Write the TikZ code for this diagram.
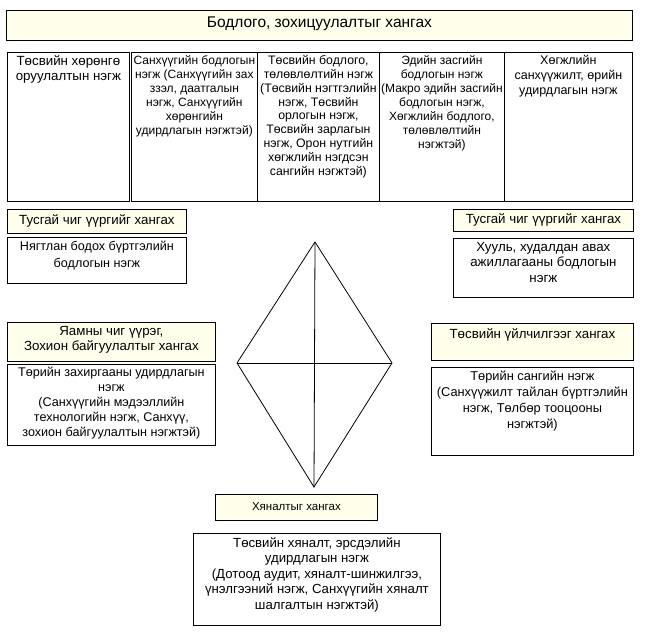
\documentclass[tikz,border=0pt]{standalone}
\usepackage{fontspec}
\setmainfont{Liberation Sans}
\usetikzlibrary{positioning}

\definecolor{hdrfill}{RGB}{255,255,236}

\tikzset{
  cell/.style={draw, line width=0.8pt, anchor=north west, inner sep=0pt},
  hdr/.style={cell, fill=hdrfill},
  txt/.style={align=center, anchor=north, inner sep=0pt},
}

\begin{document}
\begin{tikzpicture}[x=1pt, y=-1pt, every node/.style={font=\fontsize{12.5}{14}\selectfont}]
	\useasboundingbox (0,0) rectangle (647,635);
	% top header
	\node[hdr, minimum width=626pt, minimum height=30pt] (top) at (6,10) {};
	\node[font=\fontsize{15.5}{17}\selectfont] (topt) at ([yshift=2pt]top.center) {Бодлого, зохицуулалтыг хангах};
	% five units of the top row
	\node[cell, minimum width=122pt, minimum height=149pt] (u1) at (7,52) {};
	\node[cell, minimum width=126pt, minimum height=149pt] (u2) at (131,52) {};
	\node[cell, minimum width=122pt, minimum height=149pt] (u3) at (257,52) {};
	\node[cell, minimum width=125pt, minimum height=149pt] (u4) at (379,52) {};
	\node[cell, minimum width=128pt, minimum height=149pt] (u5) at (504,52) {};
	\node[txt, font=\fontsize{13.3}{15}\selectfont] (u1t) at ([yshift=-3pt]u1.north) {Төсвийн хөрөнгө\\оруулалтын нэгж};
	\node[txt, font=\fontsize{12}{14}\selectfont] (u2t) at ([yshift=-3pt]u2.north) {Санхүүгийн бодлогын\\нэгж (Санхүүгийн зах\\ззэл, даатгалын\\нэгж, Санхүүгийн\\хөрөнгийн\\удирдлагын нэгжтэй)};
	\node[txt, font=\fontsize{12.3}{13.9}\selectfont] (u3t) at ([yshift=-3pt]u3.north) {Төсвийн бодлого,\\төлөвлөлтийн нэгж\\(Төсвийн нэгтгэлийн\\нэгж, Төсвийн\\орлогын нэгж,\\Төсвийн зарлагын\\нэгж, Орон нутгийн\\хөгжлийн нэгдсэн\\сангийн нэгжтэй)};
	\node[txt, font=\fontsize{12}{14}\selectfont] (u4t) at ([yshift=-3pt]u4.north) {Эдийн засгийн\\бодлогын нэгж\\(Макро эдийн засгийн\\бодлогын нэгж,\\Хөгжлийн бодлого,\\төлөвлөлтийн\\нэгжтэй)};
	\node[txt, font=\fontsize{12.5}{15}\selectfont] (u5t) at ([yshift=-3pt]u5.north) {Хөгжлийн\\санхүүжилт, өрийн\\удирдлагын нэгж};

	% left side
	\node[hdr, minimum width=179pt, minimum height=24pt] (sl) at (7,209) {};
	\node[font=\fontsize{13.3}{15}\selectfont] (slt) at (sl.center) {Тусгай чиг үүргийг хангах};
	\node[cell, minimum width=179pt, minimum height=46pt] (acc) at (7,237) {};
	\node[txt, font=\fontsize{12.6}{17}\selectfont] (acct) at ([yshift=-4pt]acc.north) {Нягтлан бодох бүртгэлийн\\бодлогын нэгж};
	\node[hdr, minimum width=208pt, minimum height=39pt] (ml) at (7,322) {};
	\node[txt, font=\fontsize{13.3}{15}\selectfont] (mlt) at ([yshift=-4pt]ml.north) {Яамны чиг үүрэг,\\Зохион байгуулалтыг хангах};
	\node[cell, minimum width=208pt, minimum height=81pt] (adm) at (7,364) {};
	\node[txt, font=\fontsize{12.6}{15}\selectfont] (admt) at ([yshift=-3pt]adm.north) {Төрийн захиргааны удирдлагын\\нэгж\\(Санхүүгийн мэдээллийн\\технологийн нэгж, Санхүү,\\зохион байгуулалтын нэгжтэй)};

	% right side
	\node[hdr, minimum width=180pt, minimum height=22pt] (sr) at (453,209) {};
	\node[font=\fontsize{13.3}{15}\selectfont] (srt) at (sr.center) {Тусгай чиг үүргийг хангах};
	\node[cell, minimum width=180pt, minimum height=59pt] (law) at (453,238) {};
	\node[txt, font=\fontsize{13.3}{15.5}\selectfont] (lawt) at ([yshift=-4pt]law.north) {Хууль, худалдан авах\\ажиллагааны бодлогын\\нэгж};
	\node[hdr, minimum width=202pt, minimum height=37pt] (sv) at (431,323) {};
	\node[txt, font=\fontsize{13.3}{15}\selectfont] (svt) at ([yshift=-5pt]sv.north) {Төсвийн үйлчилгээг хангах};
	\node[cell, minimum width=202pt, minimum height=88pt] (trs) at (431,367) {};
	\node[txt, font=\fontsize{12.8}{16}\selectfont] (trst) at ([yshift=-4pt]trs.north) {Төрийн сангийн нэгж\\(Санхүүжилт тайлан бүртгэлийн\\нэгж, Төлбөр тооцооны\\нэгжтэй)};

	% bottom
	\node[hdr, minimum width=162pt, minimum height=26pt] (ct) at (215,494) {};
	\node[font=\fontsize{11.5}{14}\selectfont] (ctt) at ([yshift=1pt]ct.center) {Хяналтыг хангах};
	\node[cell, minimum width=247pt, minimum height=92pt] (aud) at (193,533) {};
	\node[txt, font=\fontsize{13.2}{15.5}\selectfont] (audt) at ([yshift=-4pt]aud.north) {Төсвийн хяналт, эрсдэлийн\\удирдлагын нэгж\\(Дотоод аудит, хяналт-шинжилгээ,\\үнэлгээний нэгж, Санхүүгийн хяналт\\шалгалтын нэгжтэй)};

	% diamond
	\coordinate (dT) at (315,242);
	\coordinate (dL) at (237,363);
	\coordinate (dR) at (392,363);
	\coordinate (dB) at (314,487);
	\draw[line width=0.8pt] (dT) -- (dR) -- (dB) -- (dL) -- cycle;
	\draw[line width=0.8pt] (dT) -- (dB);
	\draw[line width=0.8pt] (dL) -- (dR);
\end{tikzpicture}
\end{document}
